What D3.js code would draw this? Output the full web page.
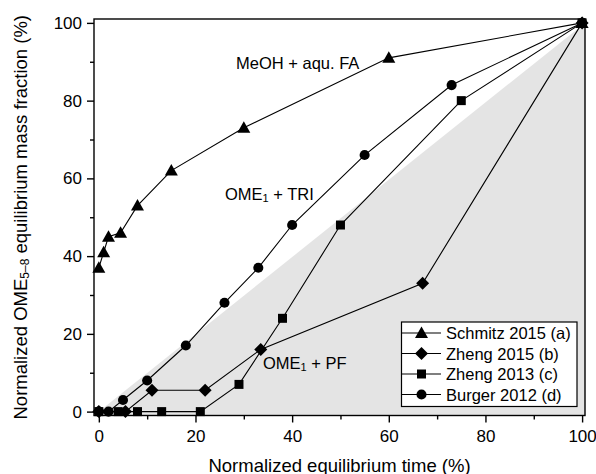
<!DOCTYPE html>
<html>
<head>
<meta charset="utf-8">
<script src="https://cdn.jsdelivr.net/npm/d3@7"></script>
<style>
  html, body { margin: 0; padding: 0; background: #fff; }
  svg { display: block; font-family: "Liberation Sans", Arial, Helvetica, sans-serif; }
</style>
</head>
<body>
<svg id="chart" width="596" height="474"></svg>
<script>
// ---- data ----
const schmitzX  = [0, 1, 2, 4.5, 8, 15, 30, 60, 100];
const schmitzY  = [37, 41, 45, 46, 53, 62, 73, 91, 100];
const zheng15X  = [0, 5.5, 11, 22, 33.5, 67, 100];
const zheng15Y  = [0, 0, 5.5, 5.5, 16, 33, 100];
const zheng13X  = [0, 4, 8, 13, 21, 29, 38, 50, 75, 100];
const zheng13Y  = [0, 0, 0, 0, 0, 7, 24, 48, 80, 100];
const burgerX   = [0, 2, 5, 10, 18, 26, 33, 40, 55, 73, 100];
const burgerY   = [0, 0, 3, 8, 17, 28, 37, 48, 66, 84, 100];
const seriesNames = ["Schmitz 2015 (a)", "Zheng 2015 (b)", "Zheng 2013 (c)", "Burger 2012 (d)"];
const seriesShapes = ["triangle", "diamond", "square", "circle"];
const majorTicks = [0, 20, 40, 60, 80, 100];
const minorTicks = [10, 30, 50, 70, 90];
const shadeX = [-1, 100.6, 100.6];
const shadeY = [-1, 100, -1];

const series = [
  {x: schmitzX, y: schmitzY},
  {x: zheng15X, y: zheng15Y},
  {x: zheng13X, y: zheng13Y},
  {x: burgerX,  y: burgerY}
].map((s, i) => ({name: seriesNames[i], shape: seriesShapes[i],
                  pts: s.x.map((v, j) => [v, s.y[j]])}));

// ---- layout ----
const L = 94, R = 585, T = 19, B = 415.5;
const x = d3.scaleLinear().domain([-1, 100.6]).range([L, R]);
const y = d3.scaleLinear().domain([-1, 101]).range([B, T]);

const svg = d3.select("#chart");

function markerPath(shape) {
  if (shape === "triangle") return "M0,-6.5L6.5,5L-6.5,5Z";
  if (shape === "diamond")  return "M0,-6.5L6.5,0L0,6.5L-6.5,0Z";
  if (shape === "square")   return "M-4.5,-4.5H4.5V4.5H-4.5Z";
  return d3.symbol(d3.symbolCircle, 80)();
}

// shaded region
svg.append("path")
  .attr("d", d3.line().x(d => x(d[0])).y(d => y(d[1]))(shadeX.map((v, i) => [v, shadeY[i]])) + "Z")
  .attr("fill", "#e4e4e4");

// lines
const line = d3.line().x(d => x(d[0])).y(d => y(d[1]));
series.forEach(s => {
  svg.append("path").attr("d", line(s.pts))
    .attr("fill", "none").attr("stroke", "#000").attr("stroke-width", 1.1);
});
// markers
series.forEach(s => {
  svg.append("g").selectAll("path").data(s.pts).join("path")
    .attr("transform", d => `translate(${x(d[0])},${y(d[1])})`)
    .attr("d", markerPath(s.shape))
    .attr("fill", "#000");
});

// frame
svg.append("rect").attr("x", L).attr("y", T).attr("width", R - L).attr("height", B - T)
  .attr("fill", "none").attr("stroke", "#000").attr("stroke-width", 1.4);

// axes
const xAxis = svg.append("g").attr("transform", `translate(0,${B})`)
  .call(d3.axisBottom(x).tickValues(majorTicks).tickSize(7).tickPadding(7).tickFormat(d3.format("d")));
const xMinor = svg.append("g").attr("transform", `translate(0,${B})`)
  .call(d3.axisBottom(x).tickValues(minorTicks).tickSize(4).tickFormat(""));
const yAxis = svg.append("g").attr("transform", `translate(${L},0)`)
  .call(d3.axisLeft(y).tickValues(majorTicks).tickSize(7).tickPadding(5).tickFormat(d3.format("d")));
const yMinor = svg.append("g").attr("transform", `translate(${L},0)`)
  .call(d3.axisLeft(y).tickValues(minorTicks).tickSize(4).tickFormat(""));
[xAxis, xMinor, yAxis, yMinor].forEach(g => {
  g.select(".domain").remove();
  g.selectAll("line").attr("stroke", "#000").attr("stroke-width", 1.4);
  g.selectAll("text").attr("font-size", 17).attr("fill", "#000")
    .attr("font-family", "'Liberation Sans', Arial, sans-serif");
});

// axis titles
svg.append("text").attr("x", (L + R) / 2).attr("y", 465)
  .attr("text-anchor", "middle").attr("dominant-baseline", "central")
  .attr("font-size", 18.5).text("Normalized equilibrium time (%)");

const yt = svg.append("text").attr("transform", `translate(20,${(T + B) / 2}) rotate(-90)`)
  .attr("text-anchor", "middle").attr("dominant-baseline", "central").attr("font-size", 18.5);
yt.append("tspan").text("Normalized OME");
yt.append("tspan").attr("font-size", 12).attr("dy", 5).text("5–8");
yt.append("tspan").attr("dy", -5).text(" equilibrium mass fraction (%)");

// annotations
function annot(px, py, main, sub, rest) {
  const t = svg.append("text").attr("x", px).attr("y", py)
    .attr("dominant-baseline", "central").attr("font-size", 16.5);
  t.append("tspan").text(main);
  if (sub) {
    t.append("tspan").attr("font-size", 11).attr("dy", 4).text(sub);
    t.append("tspan").attr("dy", -4).text(rest);
  }
}
annot(236, 63, "MeOH + aqu. FA");
annot(225, 194, "OME", "1", " + TRI");
annot(263, 363, "OME", "1", " + PF");

// legend
const lg = svg.append("g");
lg.append("rect").attr("x", 401.5).attr("y", 322).attr("width", 175.5).attr("height", 84.5)
  .attr("fill", "#fff").attr("stroke", "#000").attr("stroke-width", 1.2);
series.forEach((s, i) => {
  const cy = 333 + i * 20.5;
  lg.append("line").attr("x1", 402).attr("x2", 441).attr("y1", cy).attr("y2", cy)
    .attr("stroke", "#000").attr("stroke-width", 1.1);
  lg.append("path").attr("transform", `translate(421.5,${cy})`).attr("d", markerPath(s.shape)).attr("fill", "#000");
  lg.append("text").attr("x", 446).attr("y", cy).attr("dominant-baseline", "central")
    .attr("font-size", 16.5).text(s.name);
});
</script>
</body>
</html>
